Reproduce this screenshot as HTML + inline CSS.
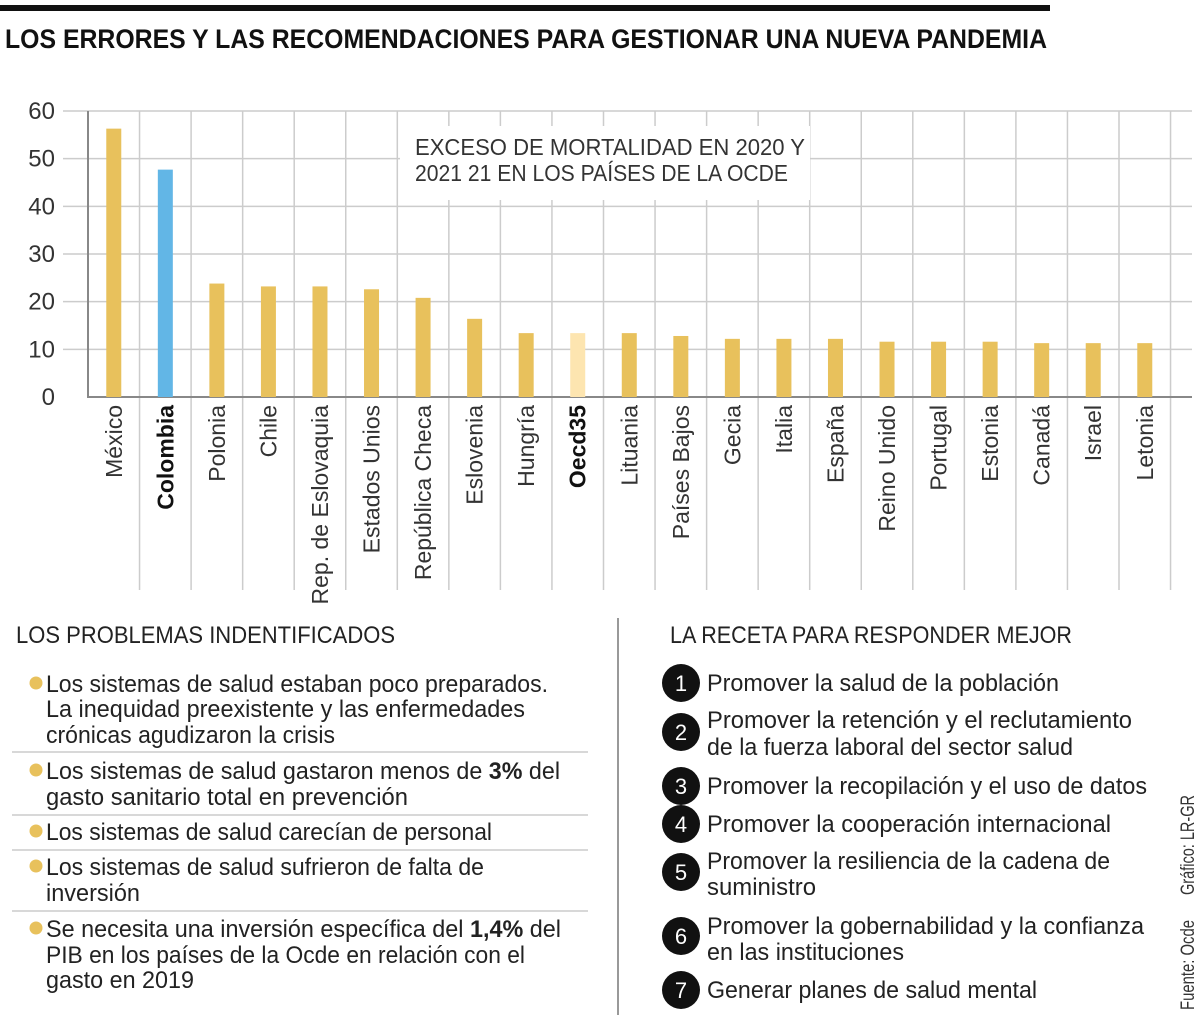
<!DOCTYPE html>
<html><head><meta charset="utf-8">
<style>
html,body{margin:0;padding:0;background:#fff;}
svg{display:block;font-family:"Liberation Sans Narrow","Liberation Sans",sans-serif;}
</style></head>
<body>
<svg id="c" width="1200" height="1019" viewBox="0 0 1200 1019" xmlns="http://www.w3.org/2000/svg">
<rect x="0" y="5" width="1050" height="6" fill="#111"/>
<text x="5" y="48" font-size="27" font-weight="bold" fill="#111" textLength="1042" lengthAdjust="spacingAndGlyphs">LOS ERRORES Y LAS RECOMENDACIONES PARA GESTIONAR UNA NUEVA PANDEMIA</text>
<g id="grid"></g>
<g id="bars"></g>
<g id="labels"></g>
<rect x="400" y="126" width="410" height="74" fill="#fff"/>
<text x="415" y="155" font-size="23" fill="#333" textLength="390" lengthAdjust="spacingAndGlyphs">EXCESO DE MORTALIDAD EN 2020 Y</text>
<text x="415" y="181" font-size="23" fill="#333" textLength="373" lengthAdjust="spacingAndGlyphs">2021 21 EN LOS PAÍSES DE LA OCDE</text>

<line x1="618" y1="618" x2="618" y2="1015" stroke="#999" stroke-width="2"/>
<g id="left" font-size="24" fill="#222"></g>
<g id="right" font-size="24" fill="#222"></g>
<text transform="translate(1194,895) rotate(-90)" font-size="19" fill="#333" textLength="100" lengthAdjust="spacingAndGlyphs">Gráfico: LR-GR</text>
<text transform="translate(1194,1010) rotate(-90)" font-size="19" fill="#333" textLength="90" lengthAdjust="spacingAndGlyphs">Fuente: Ocde</text>
</svg>
<script>
const categories=["México","Colombia","Polonia","Chile","Rep. de Eslovaquia","Estados Unios","República Checa","Eslovenia","Hungría","Oecd35","Lituania","Países Bajos","Gecia","Italia","España","Reino Unido","Portugal","Estonia","Canadá","Israel","Letonia"];
const values=[56.3,47.7,23.8,23.2,23.2,22.6,20.8,16.4,13.4,13.4,13.4,12.8,12.2,12.2,12.2,11.6,11.6,11.6,11.3,11.3,11.3];
const yTicks=[0,10,20,30,40,50,60];
const highlight=["Colombia"];
const reference=["Oecd35"];

const NS="http://www.w3.org/2000/svg";
function mk(t,a,p){const e=document.createElementNS(NS,t);for(const k in a)e.setAttribute(k,a[k]);p.appendChild(e);return e;}
const x0=88,band=51.55,y0=397,yTop=111;
const y=v=>y0-(v/60)*(y0-yTop);
const xc=i=>x0+band*(i+0.5);
const grid=document.getElementById('grid'),bars=document.getElementById('bars'),labels=document.getElementById('labels');
yTicks.forEach(t=>{
  if(t>0){const l=mk('line',{x1:63,x2:1192,y1:y(t),y2:y(t),stroke:'#ccc','stroke-width':1.5},grid);
  
  }
  const tx=mk('text',{x:55,y:y(t)+8,'text-anchor':'end','font-size':24,fill:'#333'},grid);
  tx.textContent=t;
  
  
});
categories.forEach((c,i)=>{
  const gx=x0+band*(i+1);
  const g=mk('line',{x1:gx,x2:gx,y1:yTop,y2:590,stroke:'#ccc','stroke-width':1.5},grid);
  
  
  const col=highlight.includes(c)?'#62b6e6':reference.includes(c)?'#fde5b0':'#e8c15c';
  const b=mk('rect',{x:xc(i)-7.5,y:y(values[i]),width:15,height:y0-y(values[i]),fill:col},bars);
  
  
  const bold=highlight.includes(c)||reference.includes(c);
  const t=mk('text',{transform:`translate(${xc(i)+8},405) rotate(-90)`,'text-anchor':'end','font-size':23,fill:bold?'#111':'#333','font-weight':bold?'bold':'normal'},labels);
  t.textContent=c;
  
  
});
const ax=mk('path',{d:`M${x0} ${yTop} V${y0} H1192`,stroke:'#888','stroke-width':2,fill:'none'},grid);



const L=document.getElementById('left');
function txt(p,x,yy,s,w,name){const t=mk('text',{x:x,y:yy,textLength:w,lengthAdjust:'spacingAndGlyphs'},p);t.innerHTML=s;return t;}
txt(L,16,643,'LOS PROBLEMAS INDENTIFICADOS',379,'problems-heading');
const lines=[[692,'Los sistemas de salud estaban poco preparados.',502,1],[717,'La inequidad preexistente y las enfermedades',479],[743,'crónicas agudizaron la crisis',289],
[779,'Los sistemas de salud gastaron menos de <tspan font-weight="bold">3%</tspan> del',514,1],[805,'gasto sanitario total en prevención',362],
[840,'Los sistemas de salud carecían de personal',446,1],
[875,'Los sistemas de salud sufrieron de falta de',438,1],[901,'inversión',94],
[937,'Se necesita una inversión específica del <tspan font-weight="bold">1,4%</tspan> del',515,1],[963,'PIB en los países de la Ocde en relación con el',479],[988,'gasto en 2019',148]];
lines.forEach(l=>{txt(L,46,l[0],l[1],l[2],'problem-text');
 if(l[3]){const d=mk('circle',{cx:36,cy:l[0]-9,r:6.5,fill:'#e8c15c'},L);}});
[752,815,850,911].forEach(s=>{const l=mk('line',{x1:12,x2:588,y1:s,y2:s,stroke:'#ccc','stroke-width':1.5},L);});

const R=document.getElementById('right');
txt(R,670,643,'LA RECETA PARA RESPONDER MEJOR',402,'recipe-heading');
const rl=[[691,'Promover la salud de la población',352],[728,'Promover la retención y el reclutamiento',425],[755,'de la fuerza laboral del sector salud',366],[794,'Promover la recopilación y el uso de datos',440],[832,'Promover la cooperación internacional',404],[869,'Promover la resiliencia de la cadena de',403],[895,'suministro',109],[934,'Promover la gobernabilidad y la confianza',437],[960,'en las instituciones',197],[998,'Generar planes de salud mental',330]];
rl.forEach(l=>txt(R,707,l[0],l[1],l[2],'recipe-text'));
[683,732,786,824,872,936,990].forEach((cy,i)=>{
  const c=mk('circle',{cx:681,cy:cy,r:19,fill:'#111'},R);
  
  
  const t=mk('text',{x:681,y:cy+8,'text-anchor':'middle',fill:'#fff','font-size':22},R);
  t.textContent=i+1;
  
  
});
</script>
</body></html>
